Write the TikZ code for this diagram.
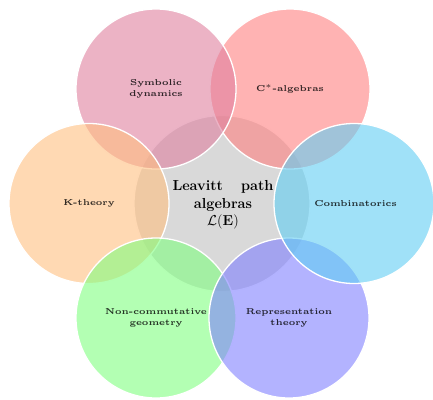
\documentclass[tikz,border=0pt]{standalone}
\usepackage{amsmath}
\definecolor{cSym}{RGB}{223,128,159}
\definecolor{cCst}{RGB}{255,128,128}
\definecolor{cKth}{RGB}{255,191,128}
\definecolor{cCom}{RGB}{97,205,243}
\definecolor{cNcg}{RGB}{128,255,128}
\definecolor{cRep}{RGB}{128,128,255}
\definecolor{cCen}{RGB}{191,191,191}
\begin{document}
\begin{tikzpicture}[x=1pt,y=-1pt,
  bubble/.style={circle,draw=white,line width=1.3pt,fill opacity=0.6,inner sep=0pt,minimum size=160pt},
  outerlabel/.style={align=center,font=\fontsize{5}{6.6}\selectfont\bfseries,text opacity=0.8,scale=1.72,inner sep=0pt}]
\useasboundingbox (0,0) rectangle (433,399);
\node[bubble,fill=cCen,minimum size=176pt] (cen) at (222,203.5) {};
\node[bubble,fill=cCst] (cst) at (290,89) {};
\node[bubble,fill=cSym] (sym) at (156,89) {};
\node[bubble,fill=cKth] (kth) at (89,203.5) {};
\node[bubble,fill=cNcg] (ncg) at (156,318) {};
\node[bubble,fill=cRep] (rep) at (289,318) {};
\node[bubble,fill=cCom] (com) at (354,203.5) {};
\node[align=center,font=\fontsize{14.5}{17.3}\selectfont\bfseries,inner sep=0pt] (centxt) at (223,205)
  {\makebox[101pt]{Leavitt\hfill path}\\algebras\\$\mathcal{L}(\mathbf{E})$};
\node[outerlabel] (symtxt) at (sym.center) {Symbolic\\dynamics};
\node[outerlabel] (csttxt) at (cst.center) {C$^*$-algebras};
\node[outerlabel] (kthtxt) at (kth.center) {K-theory};
\node[outerlabel] (comtxt) at (355.5,203.5) {Combinatorics};
\node[outerlabel] (ncgtxt) at (ncg.center) {Non-commutative\\geometry};
\node[outerlabel] (reptxt) at (rep.center) {Representation\\theory};
\end{tikzpicture}
\end{document}
